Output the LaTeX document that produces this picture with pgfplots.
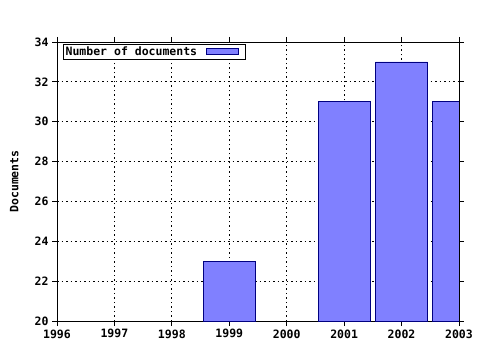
\documentclass[border=0pt]{standalone}
\usepackage{pgfplots}
\pgfplotsset{compat=1.18}
\usepackage{fontspec}
\setmainfont{DejaVu Sans Mono}
\definecolor{barfill}{HTML}{8080FF}
\definecolor{baredge}{HTML}{000080}
\begin{document}
\begin{tikzpicture}
\begin{axis}[
  scale only axis,
  width=402bp, height=279bp,
  xmin=1996, xmax=2003, ymin=20, ymax=34,
  xtick={1996,...,2003}, ytick={20,22,...,34},
  minor x tick num=5,
  xticklabel style={/pgf/number format/1000 sep={}},
  /pgf/number format/assume math mode=true,
  ticklabel style={font=\fontsize{11.5bp}{12bp}\selectfont\bfseries},
  tick align=outside,
  major tick length=5bp, minor tick length=3bp,
  grid=major,
  major grid style={black, dash pattern=on 1.5bp off 3bp, line width=0.8pt},
  axis line style={black, line width=0.8pt},
  tick style={black, line width=0.8pt},
  minor tick style={black, line width=0.6pt},
  ylabel={Documents},
  ylabel style={font=\fontsize{11.5bp}{12bp}\selectfont\bfseries, at={(axis description cs:0,0.5)}, anchor=south, yshift=35bp},
  legend style={at={(axis description cs:0.015,0.993)}, anchor=north west, draw=black, line width=0.8pt, font=\fontsize{11.5bp}{12bp}\selectfont\bfseries, inner sep=0.6bp, outer sep=0pt},
  legend plot pos=right,
  legend cell align=left,
  legend image code/.code={\path[draw=none,fill=none] (0bp,-1bp) rectangle (46bp,1bp);\draw[fill=barfill, draw=baredge, line width=0.8pt] (7bp,-2.5bp) rectangle (39bp,3.5bp);},
  legend style={/tikz/every even column/.append style={column sep=0bp}},
]
\addplot[ybar, bar width=0.91, fill=barfill, draw=baredge, line width=0.8pt]
  coordinates {(1999,23) (2001,31) (2002,33) (2003,31)};
\addlegendentry{Number of documents}
\end{axis}
\path (current axis.south west) ++(-57bp,-29bp) coordinate (bl);
\useasboundingbox (bl) rectangle ++(480bp,350bp);
\end{tikzpicture}
\end{document}
